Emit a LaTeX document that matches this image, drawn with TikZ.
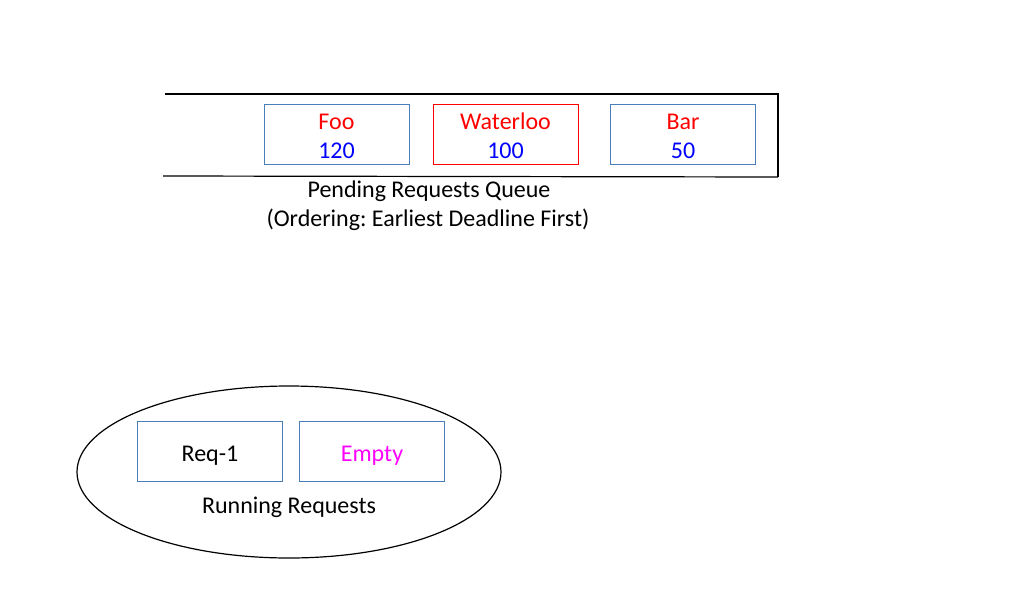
\documentclass[tikz,border=0pt]{standalone}
\usepackage{fontspec}
\setmainfont{Carlito}
\usetikzlibrary{shapes.geometric}
\frenchspacing
\definecolor{boxblue}{HTML}{4A7EBB}
\definecolor{pinkish}{HTML}{FF00FF}
\definecolor{pureblue}{HTML}{0000FF}
\definecolor{purered}{HTML}{FF0000}
\begin{document}
\begin{tikzpicture}[x=1pt,y=-1pt,
  every node/.style={font=\fontsize{24}{29}\selectfont, inner sep=0pt},
  reqbox/.style={draw=boxblue, line width=1pt, minimum width=145pt, minimum height=60pt, align=center},
  redbox/.style={reqbox, draw=purered},
  txt/.style={anchor=base}]
\useasboundingbox (0,0) rectangle (1017,597);
% queue
\coordinate (qtl) at (165,94);
\coordinate (qtr) at (778,94);
\coordinate (qbl) at (163,176);
\coordinate (qbr) at (778,177);
\draw[line width=1.2pt] (qtl) -- (qtr) -- (qbr);
\draw[line width=1.2pt] (qbl) -- (qbr);
\node[reqbox] (foo) at (336.5,134) {};
\node[redbox] (waterloo) at (505.5,134) {};
\node[reqbox] (bar) at (683,134) {};
\node[txt, text=purered] (foot) at (336.5,129) {Foo};
\node[txt, text=pureblue] (foon) at (336.5,158) {120};
\node[txt, text=purered] (wat) at (505.5,129) {Waterloo};
\node[txt, text=pureblue] (watn) at (505.5,158) {100};
\node[txt, text=purered] (bart) at (683,129) {Bar};
\node[txt, text=pureblue] (barn) at (683,158) {50};
\node[txt] (ql1) at (429,197) {Pending Requests Queue};
\node[txt] (ql2) at (428,226.5) {\frenchspacing(Ordering: Earliest Deadline First)};
% running
\node[ellipse, draw, line width=1.2pt, minimum width=424pt, minimum height=172pt] (run) at (289,472) {};
\node[reqbox] (req1) at (210,451) {};
\node[reqbox] (empty) at (372,451) {};
\node[txt] (req1t) at (210,461) {Req-1};
\node[txt, text=pinkish] (emptyt) at (372,461) {Empty};
\node[txt] (rlabel) at (289,513) {Running Requests};
\end{tikzpicture}
\end{document}
